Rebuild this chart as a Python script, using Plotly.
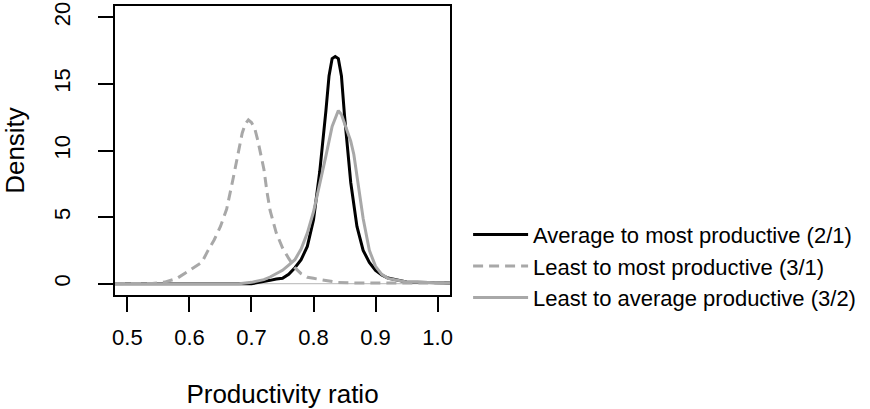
import plotly.graph_objects as go

# Density curves
x_21 = [0.48, 0.70, 0.71, 0.72, 0.73, 0.74, 0.75, 0.76, 0.77, 0.78, 0.79, 0.80, 0.81, 0.82, 0.825,
        0.83, 0.835, 0.84, 0.845, 0.85, 0.855, 0.86, 0.87, 0.88, 0.89, 0.90, 0.91, 0.92, 0.95, 1.02]
d_21 = [0.0, 0.0, 0.08, 0.15, 0.25, 0.35, 0.4, 0.7, 1.2, 1.8, 2.8, 4.8, 8.4, 13.0, 15.6,
        16.9, 17.05, 16.9, 15.6, 12.6, 10.2, 7.6, 4.3, 2.5, 1.6, 1.0, 0.65, 0.42, 0.12, 0.05]

x_31 = [0.48, 0.52, 0.54, 0.56, 0.58, 0.60, 0.62, 0.63, 0.64, 0.65, 0.66, 0.67, 0.68, 0.685, 0.69,
        0.695, 0.70, 0.705, 0.71, 0.72, 0.725, 0.73, 0.74, 0.75, 0.76, 0.77, 0.78, 0.79, 0.80, 0.82,
        0.84, 0.86, 0.90, 0.95, 1.02]
d_31 = [0.0, 0.0, 0.02, 0.12, 0.4, 1.0, 1.6, 2.5, 3.3, 4.3, 5.6, 7.8, 10.0, 11.3, 12.0,
        12.3, 12.1, 11.7, 10.8, 8.6, 6.9, 5.5, 3.8, 2.7, 1.9, 1.2, 0.75, 0.48, 0.4, 0.22,
        0.08, 0.06, 0.06, 0.05, 0.05]

x_32 = [0.48, 0.68, 0.70, 0.72, 0.73, 0.74, 0.75, 0.76, 0.77, 0.78, 0.79, 0.80, 0.81, 0.82, 0.83,
        0.84, 0.845, 0.85, 0.855, 0.86, 0.865, 0.87, 0.875, 0.88, 0.89, 0.90, 0.91, 0.92, 0.95, 1.02]
d_32 = [0.0, 0.0, 0.1, 0.3, 0.5, 0.75, 1.0, 1.4, 1.8, 2.6, 3.8, 5.4, 7.4, 9.6, 11.8,
        13.0, 12.7, 12.0, 11.3, 10.7, 9.7, 8.1, 6.4, 4.9, 2.5, 1.3, 0.7, 0.4, 0.12, 0.05]

names = ["Average to most productive (2/1)",
         "Least to most productive (3/1)",
         "Least to average productive (3/2)"]

x_ticks = [0.5, 0.6, 0.7, 0.8, 0.9, 1.0]
y_ticks = [0, 5, 10, 15, 20]

GRAY = "#a8a8a8"
FONT = "Liberation Sans, Arial, sans-serif"

fig = go.Figure()
fig.add_hline(y=0, line=dict(color="#c4c4c4", width=1.2), layer="below")

fig.add_trace(go.Scatter(x=x_21, y=d_21, mode="lines", name=names[0],
                         line=dict(color="black", width=3)))
fig.add_trace(go.Scatter(x=x_31, y=d_31, mode="lines", name=names[1],
                         line=dict(color=GRAY, width=3, dash="10px,6px")))
fig.add_trace(go.Scatter(x=x_32, y=d_32, mode="lines", name=names[2],
                         line=dict(color=GRAY, width=3)))

fig.update_layout(
    width=870, height=409,
    margin=dict(l=115, r=420, t=6, b=114, autoexpand=False),
    paper_bgcolor="white", plot_bgcolor="white",
    font=dict(family=FONT, size=22, color="black"),
    showlegend=True,
    legend=dict(x=1.054, y=0.10, xanchor="left", yanchor="middle",
                bgcolor="rgba(0,0,0,0)", borderwidth=0, itemwidth=55,
                font=dict(size=22), tracegroupgap=0),
)
fig.update_xaxes(
    range=[0.48, 1.02], tickvals=x_ticks, ticktext=[f"{v:.1f}" for v in x_ticks],
    showgrid=False, zeroline=False, showline=True, linecolor="black", linewidth=2,
    mirror=True, ticks="outside", ticklen=15, tickwidth=2, tickcolor="black",
    ticklabelstandoff=7, automargin=False,
    title=dict(text="Productivity ratio", standoff=38),
)
fig.update_yaxes(
    range=[-0.85, 20.85], tickvals=y_ticks, ticktext=[str(v) for v in y_ticks],
    showgrid=False, zeroline=False, showline=True, linecolor="black", linewidth=2,
    mirror=True, ticks="outside", ticklen=15, tickwidth=2, tickcolor="black",
    tickangle=-90, ticklabelstandoff=19, automargin=False,
    title=dict(text="Density", standoff=35),
)

fig.write_html("out.html", config={"displayModeBar": False},
               post_script="document.body.style.margin='0px';")
